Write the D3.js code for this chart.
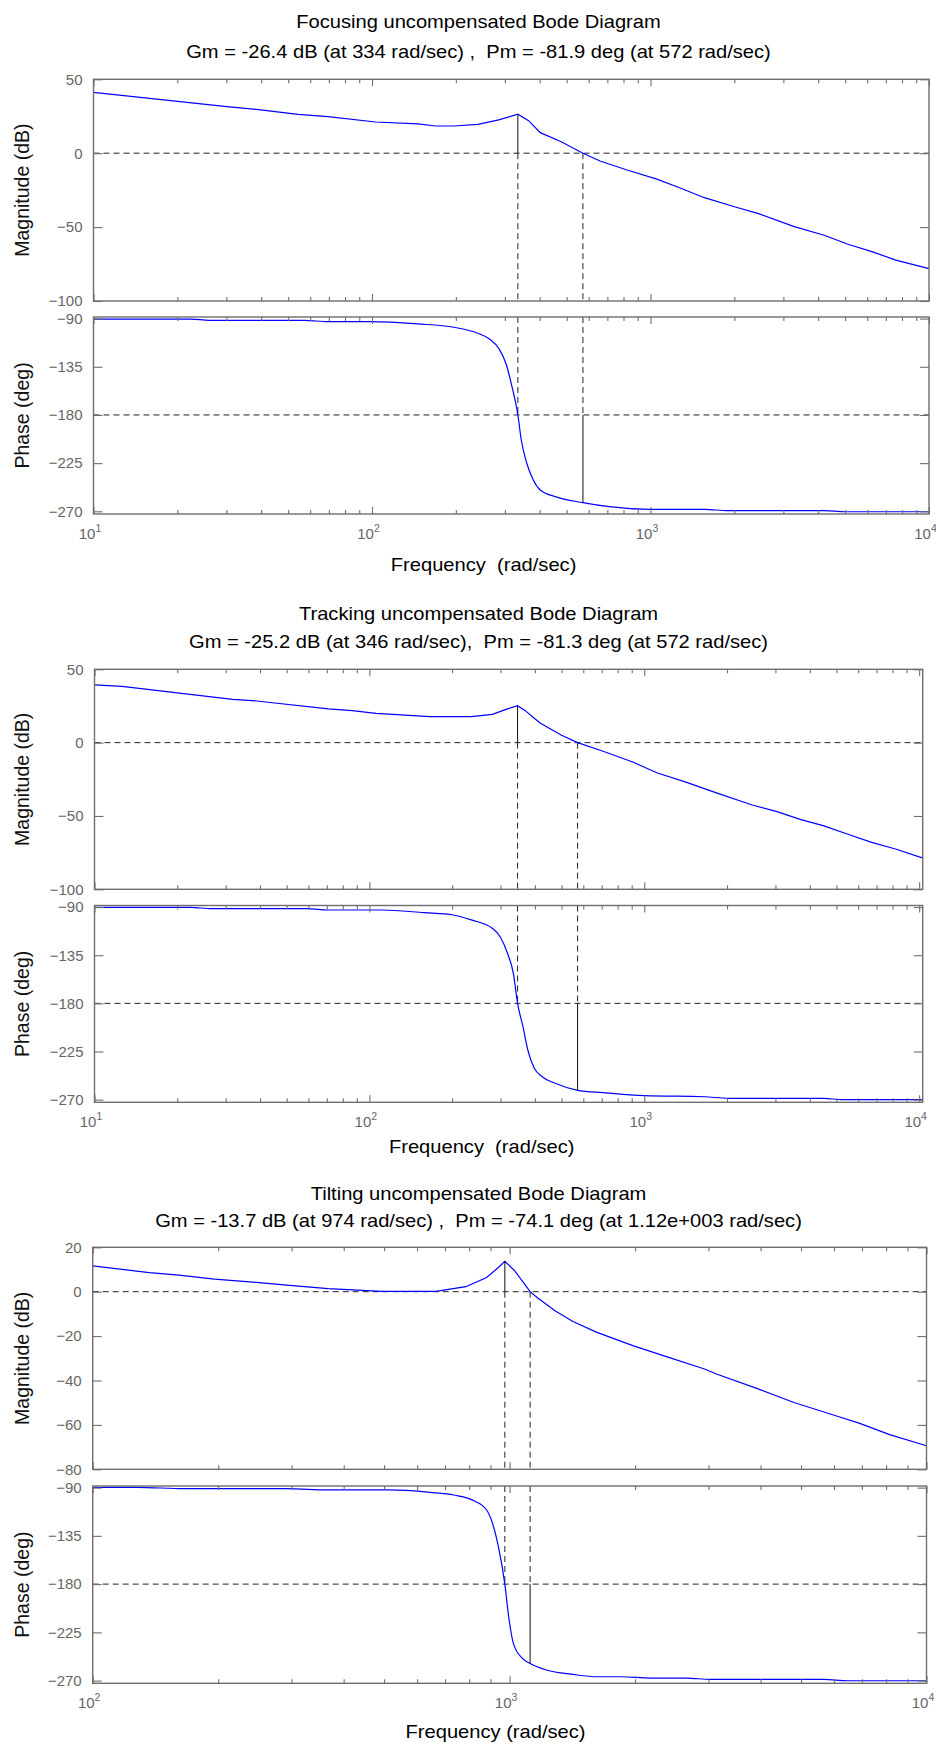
<!DOCTYPE html>
<html>
<head>
<meta charset="utf-8">
<script src="https://cdn.jsdelivr.net/npm/d3@7"></script>
<style>
  body { margin: 0; background: #fff; }
  svg text { font-family: "Liberation Sans", Arial, Helvetica, sans-serif; white-space: pre; }
</style>
</head>
<body>
<div class="chart"></div>
<script>
"use strict";

// ---- chart values ----
const titles = [
  "Focusing uncompensated Bode Diagram",
  "Tracking uncompensated Bode Diagram",
  "Tilting uncompensated Bode Diagram"
];
const subtitles = [
  "Gm = -26.4 dB (at 334 rad/sec) ,  Pm = -81.9 deg (at 572 rad/sec)",
  "Gm = -25.2 dB (at 346 rad/sec),  Pm = -81.3 deg (at 572 rad/sec)",
  "Gm = -13.7 dB (at 974 rad/sec) ,  Pm = -74.1 deg (at 1.12e+003 rad/sec)"
];
const xLabels = ["Frequency  (rad/sec)", "Frequency  (rad/sec)", "Frequency (rad/sec)"];

const gmFreq = [334, 346, 974];
const gmDb = [-26.4, -25.2, -13.7];
const pmFreq = [572, 572, 1120];
const pmDeg = [-81.9, -81.3, -74.1];

const magTicks = [[50, 0, -50, -100], [50, 0, -50, -100], [20, 0, -20, -40, -60, -80]];
const phaseTicks = [-90, -135, -180, -225, -270];

const focusMagFreq = [10, 30.1, 40.5, 54.3, 69.5, 103, 146, 169.6, 197, 240, 285, 334, 365, 402, 478, 572, 659, 824, 1054, 1285, 1561, 2003, 2443, 3282, 4204, 5120, 6237, 7600, 10000];
const focusMagDb = [41.2, 31.5, 29.2, 26.3, 24.7, 21.1, 19.8, 18.4, 18.4, 19.5, 22.5, 26.4, 22, 13.9, 7.8, 0, -5.3, -11.4, -17.5, -23.7, -30.1, -36.2, -40.9, -49.7, -55.5, -61.6, -66.6, -72.3, -78.1];
const focusPhFreq = [10, 22.4, 26, 57.3, 69.5, 98.5, 146, 197, 240, 265, 285, 304, 316, 334, 343.6, 359.5, 379.4, 402, 455, 572, 711, 1003, 1561, 1901, 4204, 5000, 10000];
const focusPhDeg = [-90.4, -90.4, -91.6, -91.6, -92.9, -92.9, -95, -98.1, -103.7, -109.3, -117.7, -133.3, -150.4, -180, -203.4, -225.1, -240.7, -250.1, -256.3, -261.9, -265.7, -268.1, -268.1, -269.4, -269.4, -270.4, -270.4];

const trackMagFreq = [10, 12.6, 19.3, 31.8, 38.9, 70.9, 86.5, 105.7, 166, 235, 280, 318, 346, 369, 398, 418, 498, 572, 708, 908, 1110, 1426, 1830, 2470, 3020, 3690, 4503, 5503, 6715, 8200, 10330];
const trackMagDb = [39.4, 38.4, 34.3, 29.5, 28.4, 23, 21.8, 20, 17.7, 17.7, 19.3, 23, 25.2, 21.8, 16.6, 13.4, 5.2, 0, -5.9, -13.2, -20.5, -27.1, -34.3, -42.5, -46.9, -52.3, -56.8, -62.5, -68, -72.5, -78.7];
const trackPhFreq = [10, 22.4, 26.7, 59.4, 70.8, 111, 158, 202, 235, 280, 299, 318, 334, 346, 362, 377, 398, 425, 474, 572, 708, 1005, 1656, 2024, 4503, 5234, 10330];
const trackPhDeg = [-90.2, -90.2, -91.5, -91.5, -92.7, -92.7, -95.2, -97.4, -102, -109.8, -117.7, -133.2, -151.9, -180, -201.8, -223.6, -240.7, -248.6, -254.7, -261.3, -263.5, -266.3, -267.3, -268.8, -268.8, -270, -270];

const tiltMagFreq = [100, 136.7, 161, 196, 247, 292, 367, 494, 665, 785, 881, 940, 974, 1028, 1120, 1164, 1285, 1419, 1620, 1975, 2407, 2935, 3134, 3947, 4809, 6059, 6918, 8157, 10000];
const tiltMagDb = [11.6, 8.6, 7.5, 5.7, 4.2, 3, 1.35, 0.15, 0.15, 2.25, 6.4, 10.9, 13.7, 9.5, 0, -2.6, -8.6, -13.4, -18.3, -24.3, -29.6, -34.8, -37.1, -43.8, -49.9, -55.9, -59.3, -64.4, -69.4];
const tiltPhFreq = [100, 128, 166, 292, 367, 511, 644, 735, 824, 881, 910, 940, 974, 995, 1021, 1073, 1120, 1225, 1420, 1621, 1850, 2180, 2658, 3032, 5675, 6476, 10000];
const tiltPhDeg = [-89.7, -89.7, -91, -91, -92.2, -92.2, -94.4, -96.9, -102.5, -110.9, -123.3, -145.1, -180, -210.4, -235.2, -249.2, -254.1, -260.1, -264.2, -266.4, -266.4, -267.6, -267.6, -268.9, -268.9, -270.1, -270.1];

const xDomains = [[10, 10000], [10, 10300], [100, 10000]];
const magDomains = [[50, -100], [50, -100], [20, -80]];
const phaseDomain = [-88.5, -272.5];

// ---- layout ----
const W = 936, H = 1745;
const STRETCH = 1.15;
const BOX = "#6e6e6e";
const LAYOUT = [
  { x: [93.5, 929], mag: [79.3, 301], ph: [317, 514], titleY: 27.7, subY: 58, labY: 571.3, labX: 483.6 },
  { x: [94.5, 922.7], mag: [669.3, 889.3], ph: [905.5, 1102.3], titleY: 619.6, subY: 648, labY: 1153, labX: 481.7 },
  { x: [92.7, 926.5], mag: [1247.3, 1469.3], ph: [1486, 1683.3], titleY: 1200.3, subY: 1227, labY: 1738, labX: 495.5 }
];
const SERIES = [
  [focusMagFreq, focusMagDb, focusPhFreq, focusPhDeg],
  [trackMagFreq, trackMagDb, trackPhFreq, trackPhDeg],
  [tiltMagFreq, tiltMagDb, tiltPhFreq, tiltPhDeg]
];

const svg = d3.select(".chart").append("svg")
  .attr("width", W).attr("height", H)
  .style("display", "block");

function wideText(parent, x, y, str, size, color) {
  return parent.append("g")
    .attr("transform", `translate(${x},${y}) scale(${STRETCH},1)`)
    .append("text")
    .attr("text-anchor", "middle")
    .attr("font-size", size)
    .attr("fill", color)
    .text(str);
}

function logTicks(dom) {
  const major = [], minor = [];
  for (let k = Math.floor(Math.log10(dom[0])); k <= Math.ceil(Math.log10(dom[1])); k++) {
    for (let m = 1; m < 10; m++) {
      const v = m * Math.pow(10, k);
      if (v < dom[0] * 0.999 || v > dom[1] * 1.001) continue;
      (m === 1 ? major : minor).push(v);
    }
  }
  return { major, minor };
}

function styleAxis(g) {
  g.select(".domain").remove();
  g.attr("font-family", null).attr("font-size", 15).attr("color", BOX);
  g.selectAll(".tick line").attr("stroke-width", 1.1);
}

function drawAxesBox(g, x, y, top, bottom, yTicks, xLabelled, xTicks) {
  g.append("rect")
    .attr("x", x.range()[0]).attr("y", top)
    .attr("width", x.range()[1] - x.range()[0]).attr("height", bottom - top)
    .attr("fill", "none").attr("stroke", BOX).attr("stroke-width", 1.4);

  // minor x ticks, bottom and top
  g.append("g").attr("transform", `translate(0,${bottom})`)
    .call(d3.axisBottom(x).tickValues(xTicks.minor).tickSizeInner(-4).tickSizeOuter(0).tickFormat(""))
    .call(styleAxis);
  g.append("g").attr("transform", `translate(0,${top})`)
    .call(d3.axisTop(x).tickValues(xTicks.minor).tickSizeInner(-4).tickSizeOuter(0).tickFormat(""))
    .call(styleAxis);
  g.append("g").attr("transform", `translate(0,${top})`)
    .call(d3.axisTop(x).tickValues(xTicks.major).tickSizeInner(-7).tickSizeOuter(0).tickFormat(""))
    .call(styleAxis);

  const bottomAxis = g.append("g").attr("transform", `translate(0,${bottom})`)
    .call(d3.axisBottom(x).tickValues(xTicks.major).tickSizeInner(-7).tickSizeOuter(0).tickFormat(""))
    .call(styleAxis);

  if (xLabelled) {
    bottomAxis.selectAll(".tick text").each(function (d) {
      const t = d3.select(this);
      t.attr("y", 25).attr("dy", null).attr("x", -4).attr("fill", "#666");
      t.append("tspan").text("10");
      t.append("tspan").attr("dy", -7.5).attr("font-size", 10.5)
        .text(Math.round(Math.log10(d)));
    });
  }

  g.append("g").attr("transform", `translate(${x.range()[0]},0)`)
    .call(d3.axisLeft(y).tickValues(yTicks).tickSizeInner(-9).tickSizeOuter(0).tickPadding(11))
    .call(styleAxis)
    .selectAll(".tick text").attr("fill", "#666");
  g.append("g").attr("transform", `translate(${x.range()[1]},0)`)
    .call(d3.axisRight(y).tickValues(yTicks).tickSizeInner(-9).tickSizeOuter(0).tickFormat(""))
    .call(styleAxis);
}

function dashed(g, x1, y1, x2, y2) {
  g.append("line")
    .attr("x1", x1).attr("y1", y1).attr("x2", x2).attr("y2", y2)
    .attr("stroke", "#222").attr("stroke-width", 1)
    .attr("stroke-dasharray", "6,4");
}

function solid(g, x1, y1, x2, y2) {
  g.append("line")
    .attr("x1", x1).attr("y1", y1).attr("x2", x2).attr("y2", y2)
    .attr("stroke", "#111").attr("stroke-width", 1);
}

function drawPanel(i) {
  const L = LAYOUT[i];
  const [mf, mv, pf, pv] = SERIES[i];
  const g = svg.append("g");

  const x = d3.scaleLog().domain(xDomains[i]).range(L.x);
  const yMag = d3.scaleLinear().domain(magDomains[i]).range(L.mag);
  const yPh = d3.scaleLinear().domain(phaseDomain).range(L.ph);
  const xTicks = logTicks(xDomains[i]);

  // titles
  wideText(g, 478.5, L.titleY, titles[i], 17.5, "#000");
  wideText(g, 478.5, L.subY, subtitles[i], 17.5, "#000");
  wideText(g, L.labX, L.labY, xLabels[i], 17.5, "#000");

  // y labels
  [["Magnitude (dB)", L.mag], ["Phase (deg)", L.ph]].forEach(([txt, r]) => {
    g.append("text")
      .attr("transform", `translate(22,${(r[0] + r[1]) / 2}) rotate(-90)`)
      .attr("text-anchor", "middle")
      .attr("dominant-baseline", "central")
      .attr("font-size", 19.5)
      .attr("fill", "#111")
      .text(txt);
  });

  // reference lines
  dashed(g, L.x[0], yMag(0), L.x[1], yMag(0));
  dashed(g, L.x[0], yPh(-180), L.x[1], yPh(-180));
  dashed(g, x(gmFreq[i]), yMag(0), x(gmFreq[i]), L.mag[1]);
  dashed(g, x(pmFreq[i]), yMag(0), x(pmFreq[i]), L.mag[1]);
  dashed(g, x(gmFreq[i]), L.ph[0], x(gmFreq[i]), yPh(-180));
  dashed(g, x(pmFreq[i]), L.ph[0], x(pmFreq[i]), yPh(-180));

  // curves
  const magLine = d3.line().x((d) => x(d[0])).y((d) => yMag(d[1]));
  const phLine = d3.line().x((d) => x(d[0])).y((d) => yPh(d[1])).curve(d3.curveMonotoneX);
  g.append("path")
    .datum(mf.map((f, j) => [f, mv[j]]))
    .attr("d", magLine)
    .attr("fill", "none").attr("stroke", "#0000ff").attr("stroke-width", 1.2);
  g.append("path")
    .datum(pf.map((f, j) => [f, pv[j]]))
    .attr("d", phLine)
    .attr("fill", "none").attr("stroke", "#0000ff").attr("stroke-width", 1.2);

  // margin markers
  solid(g, x(gmFreq[i]), yMag(0), x(gmFreq[i]), yMag(-gmDb[i]));
  solid(g, x(pmFreq[i]), yPh(-180), x(pmFreq[i]), yPh(-180 + pmDeg[i]));

  drawAxesBox(g, x, yMag, L.mag[0], L.mag[1], magTicks[i], false, xTicks);
  drawAxesBox(g, x, yPh, L.ph[0], L.ph[1], phaseTicks, true, xTicks);
}

[0, 1, 2].forEach(drawPanel);
</script>
</body>
</html>
